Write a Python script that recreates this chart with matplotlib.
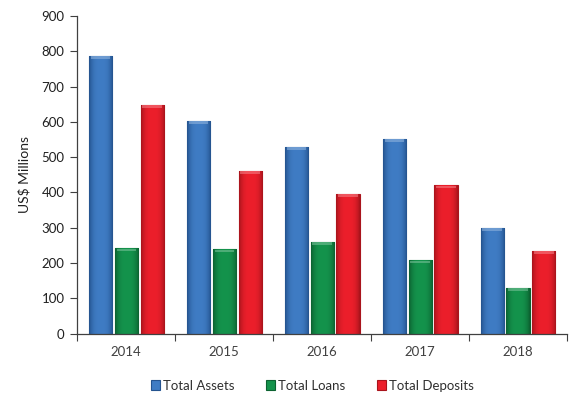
import numpy as np
import matplotlib
matplotlib.use("Agg")
import matplotlib.pyplot as plt
from matplotlib.colors import to_rgb

years = ["2014", "2015", "2016", "2017", "2018"]
total_assets = [787, 603, 529, 552, 300]
total_loans = [243, 240, 260, 209, 130]
total_deposits = [648, 461, 396, 421, 235]

series = [
    ("Total Assets", total_assets, "#3f7cc4", "#24538f"),
    ("Total Loans", total_loans, "#14934c", "#0c6231"),
    ("Total Deposits", total_deposits, "#ec1f2b", "#a9141c"),
]

plt.rcParams["font.family"] = ["Lato", "DejaVu Sans"]

fig = plt.figure(figsize=(5.71, 3.96), dpi=100)
ax = fig.add_axes([0.135, 0.157, 0.858, 0.803])

x = np.arange(len(years))
width = 0.235
step = 0.265


def shade(bar, base, edge):
    # horizontal shading across the bar, darker at the sides
    b = np.array(to_rgb(base))
    e = np.array(to_rgb(edge))
    t = np.linspace(-1, 1, 40)
    w = np.clip(np.abs(t) ** 3, 0, 1)[:, None]
    row = b * (1 - w) + e * w
    img = np.tile(row[None, :, :], (2, 1, 1))
    x0, y0 = bar.get_x(), bar.get_y()
    x1, y1 = x0 + bar.get_width(), y0 + bar.get_height()
    im = ax.imshow(img, extent=[x0, x1, y0, y1], aspect="auto",
                   zorder=bar.get_zorder() + 0.1, interpolation="bilinear")
    im.set_clip_path(bar)
    # lighter cap at the top
    cap_h = 9
    lt = b * 0.55 + 0.45
    ax.fill_between([x0 + 0.02, x1 - 0.02], y1 - cap_h, y1 - 1.5,
                    color=lt, alpha=0.55, lw=0, zorder=bar.get_zorder() + 0.2)


handles = []
for i, (name, vals, base, edge) in enumerate(series):
    bars = ax.bar(x + (i - 1) * step, vals, width, color=base,
                  edgecolor=edge, linewidth=0.8, label=name, zorder=2)
    for b in bars:
        shade(b, base, edge)
    handles.append(bars)

ax.set_xlim(-0.5, len(years) - 0.5)
ax.set_ylim(0, 900)
ax.set_yticks(range(0, 901, 100))
ax.set_xticks(x)
ax.set_xticklabels(years)
ax.set_xticks(np.arange(-0.5, len(years), 1), minor=True)
ax.tick_params(axis="x", which="major", length=0, pad=9, labelsize=9.5,
               labelcolor="#404040")
ax.tick_params(axis="x", which="minor", length=5, direction="out",
               width=0.8, color="#404040")
ax.tick_params(axis="y", length=5, direction="out", width=0.8,
               color="#404040", labelsize=9.5, labelcolor="#202020", pad=4)

for s in ("top", "right"):
    ax.spines[s].set_visible(False)
for s in ("left", "bottom"):
    ax.spines[s].set_color("#404040")
    ax.spines[s].set_linewidth(0.9)

ax.set_ylabel("US$ Millions", fontsize=10, color="#202020", labelpad=8)

ax.legend(handles=handles, loc="center", bbox_to_anchor=(0.48, -0.163),
          ncol=3, frameon=False, fontsize=9.5, handlelength=0.7,
          handleheight=0.7, handletextpad=0.2, columnspacing=2.4,
          labelcolor="#303030")

fig.savefig("out.png", dpi=100)
